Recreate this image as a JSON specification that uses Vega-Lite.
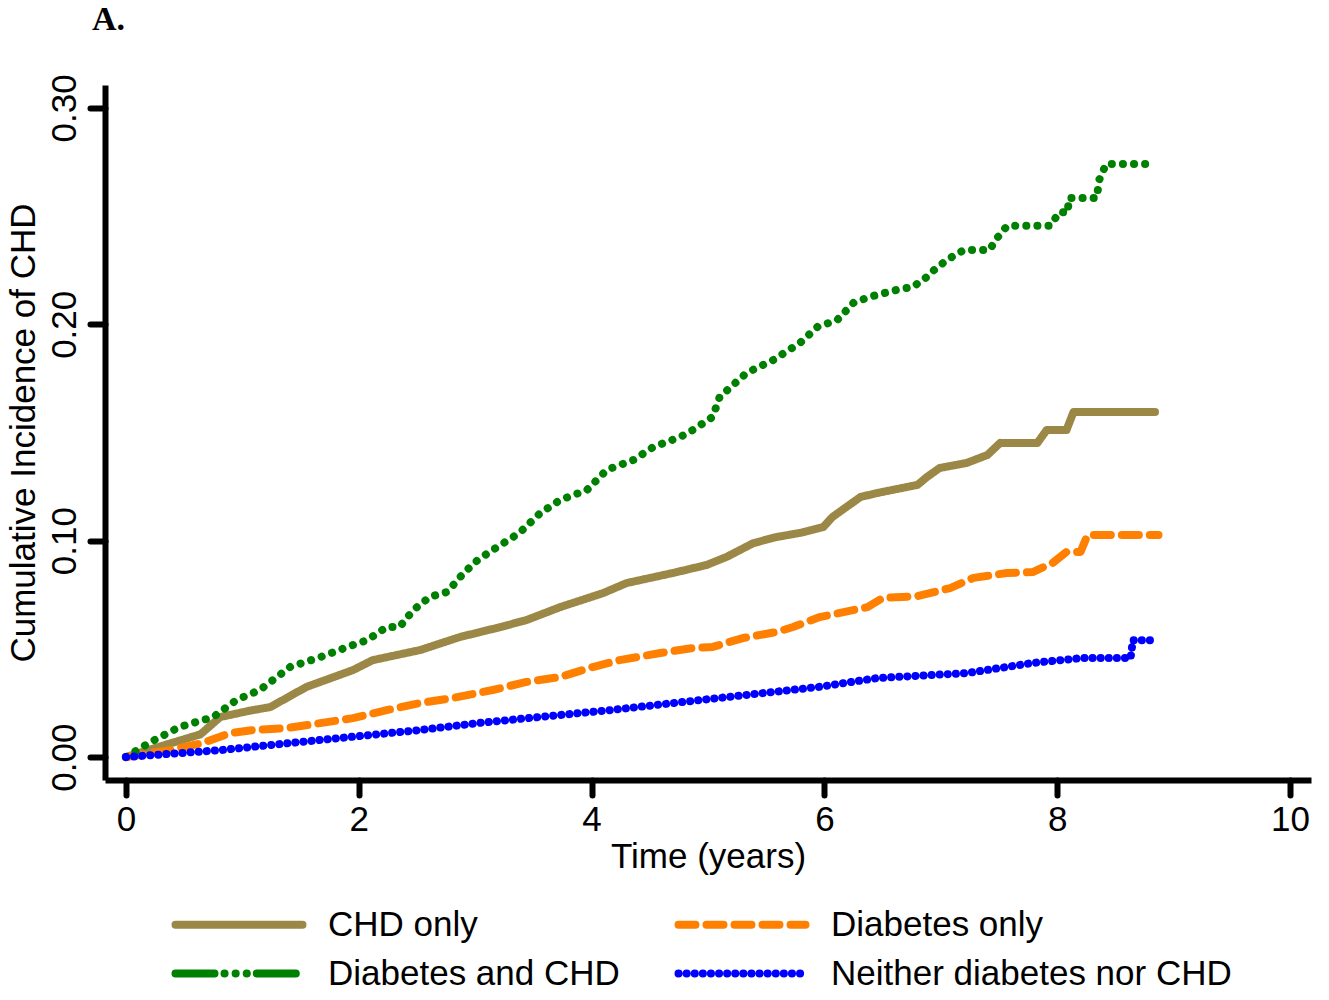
{
  "$schema": "https://vega.github.io/schema/vega-lite/v6.json",
  "width": 1206,
  "height": 695,
  "autosize": {"type": "none"},
  "padding": {"left": 105, "top": 85, "right": 18, "bottom": 220},
  "background": "white",
  "title": {"text": "A.", "anchor": "start", "frame": "group", "font": "Liberation Serif", "fontWeight": "bold", "fontSize": 34, "color": "black", "dx": -13, "offset": 37},
  "data": {"values": [
    {"group": "CHD only", "t": 0, "v": 0},
    {"group": "CHD only", "t": 0.3, "v": 0.005},
    {"group": "CHD only", "t": 0.64, "v": 0.0105},
    {"group": "CHD only", "t": 0.81, "v": 0.0185},
    {"group": "CHD only", "t": 1.07, "v": 0.0215},
    {"group": "CHD only", "t": 1.24, "v": 0.0231},
    {"group": "CHD only", "t": 1.55, "v": 0.0324},
    {"group": "CHD only", "t": 1.95, "v": 0.0402},
    {"group": "CHD only", "t": 2.12, "v": 0.0448},
    {"group": "CHD only", "t": 2.53, "v": 0.0495},
    {"group": "CHD only", "t": 2.87, "v": 0.0555},
    {"group": "CHD only", "t": 3.21, "v": 0.06},
    {"group": "CHD only", "t": 3.44, "v": 0.0633},
    {"group": "CHD only", "t": 3.73, "v": 0.0693},
    {"group": "CHD only", "t": 4.1, "v": 0.0758},
    {"group": "CHD only", "t": 4.3, "v": 0.0804},
    {"group": "CHD only", "t": 4.7, "v": 0.0851},
    {"group": "CHD only", "t": 4.99, "v": 0.0888},
    {"group": "CHD only", "t": 5.16, "v": 0.0925},
    {"group": "CHD only", "t": 5.39, "v": 0.0989},
    {"group": "CHD only", "t": 5.59, "v": 0.1017},
    {"group": "CHD only", "t": 5.79, "v": 0.1036},
    {"group": "CHD only", "t": 5.99, "v": 0.1063},
    {"group": "CHD only", "t": 6.07, "v": 0.111},
    {"group": "CHD only", "t": 6.31, "v": 0.1202},
    {"group": "CHD only", "t": 6.45, "v": 0.122},
    {"group": "CHD only", "t": 6.8, "v": 0.1258},
    {"group": "CHD only", "t": 6.88, "v": 0.1294},
    {"group": "CHD only", "t": 6.99, "v": 0.1336},
    {"group": "CHD only", "t": 7.22, "v": 0.1359},
    {"group": "CHD only", "t": 7.4, "v": 0.1396},
    {"group": "CHD only", "t": 7.51, "v": 0.1452},
    {"group": "CHD only", "t": 7.83, "v": 0.1452},
    {"group": "CHD only", "t": 7.91, "v": 0.1512},
    {"group": "CHD only", "t": 8.08, "v": 0.1512},
    {"group": "CHD only", "t": 8.14, "v": 0.1595},
    {"group": "CHD only", "t": 8.84, "v": 0.1595},
    {"group": "Diabetes only", "t": 0, "v": 0},
    {"group": "Diabetes only", "t": 0.38, "v": 0.0032},
    {"group": "Diabetes only", "t": 0.66, "v": 0.0065},
    {"group": "Diabetes only", "t": 0.89, "v": 0.011},
    {"group": "Diabetes only", "t": 1.09, "v": 0.0125},
    {"group": "Diabetes only", "t": 1.38, "v": 0.0134},
    {"group": "Diabetes only", "t": 1.67, "v": 0.0157},
    {"group": "Diabetes only", "t": 1.95, "v": 0.018},
    {"group": "Diabetes only", "t": 2.24, "v": 0.0217},
    {"group": "Diabetes only", "t": 2.53, "v": 0.025},
    {"group": "Diabetes only", "t": 2.81, "v": 0.0273},
    {"group": "Diabetes only", "t": 3.15, "v": 0.031},
    {"group": "Diabetes only", "t": 3.44, "v": 0.0347},
    {"group": "Diabetes only", "t": 3.73, "v": 0.037},
    {"group": "Diabetes only", "t": 4.01, "v": 0.0416},
    {"group": "Diabetes only", "t": 4.24, "v": 0.0448},
    {"group": "Diabetes only", "t": 4.59, "v": 0.0481},
    {"group": "Diabetes only", "t": 4.87, "v": 0.0504},
    {"group": "Diabetes only", "t": 5.04, "v": 0.0509},
    {"group": "Diabetes only", "t": 5.3, "v": 0.055},
    {"group": "Diabetes only", "t": 5.59, "v": 0.0578},
    {"group": "Diabetes only", "t": 5.73, "v": 0.0601},
    {"group": "Diabetes only", "t": 5.96, "v": 0.0647},
    {"group": "Diabetes only", "t": 6.37, "v": 0.0693},
    {"group": "Diabetes only", "t": 6.5, "v": 0.0735},
    {"group": "Diabetes only", "t": 6.8, "v": 0.0744},
    {"group": "Diabetes only", "t": 7.08, "v": 0.0781},
    {"group": "Diabetes only", "t": 7.28, "v": 0.0828},
    {"group": "Diabetes only", "t": 7.57, "v": 0.0851},
    {"group": "Diabetes only", "t": 7.79, "v": 0.0855},
    {"group": "Diabetes only", "t": 7.96, "v": 0.0897},
    {"group": "Diabetes only", "t": 8.08, "v": 0.0948},
    {"group": "Diabetes only", "t": 8.2, "v": 0.0948},
    {"group": "Diabetes only", "t": 8.26, "v": 0.1026},
    {"group": "Diabetes only", "t": 8.87, "v": 0.1026},
    {"group": "Diabetes and CHD", "t": 0, "v": 0},
    {"group": "Diabetes and CHD", "t": 0.21, "v": 0.0069},
    {"group": "Diabetes and CHD", "t": 0.46, "v": 0.0139},
    {"group": "Diabetes and CHD", "t": 0.75, "v": 0.0185},
    {"group": "Diabetes and CHD", "t": 0.95, "v": 0.0264},
    {"group": "Diabetes and CHD", "t": 1.15, "v": 0.031},
    {"group": "Diabetes and CHD", "t": 1.41, "v": 0.0416},
    {"group": "Diabetes and CHD", "t": 1.67, "v": 0.0462},
    {"group": "Diabetes and CHD", "t": 1.95, "v": 0.0518},
    {"group": "Diabetes and CHD", "t": 2.07, "v": 0.054},
    {"group": "Diabetes and CHD", "t": 2.24, "v": 0.0601},
    {"group": "Diabetes and CHD", "t": 2.35, "v": 0.0601},
    {"group": "Diabetes and CHD", "t": 2.47, "v": 0.068},
    {"group": "Diabetes and CHD", "t": 2.61, "v": 0.074},
    {"group": "Diabetes and CHD", "t": 2.76, "v": 0.0763},
    {"group": "Diabetes and CHD", "t": 2.9, "v": 0.085},
    {"group": "Diabetes and CHD", "t": 3.02, "v": 0.091},
    {"group": "Diabetes and CHD", "t": 3.15, "v": 0.0957},
    {"group": "Diabetes and CHD", "t": 3.38, "v": 0.1036},
    {"group": "Diabetes and CHD", "t": 3.56, "v": 0.1128},
    {"group": "Diabetes and CHD", "t": 3.73, "v": 0.1188},
    {"group": "Diabetes and CHD", "t": 3.96, "v": 0.1234},
    {"group": "Diabetes and CHD", "t": 4.13, "v": 0.1327},
    {"group": "Diabetes and CHD", "t": 4.36, "v": 0.1373},
    {"group": "Diabetes and CHD", "t": 4.53, "v": 0.1433},
    {"group": "Diabetes and CHD", "t": 4.76, "v": 0.1479},
    {"group": "Diabetes and CHD", "t": 4.87, "v": 0.1512},
    {"group": "Diabetes and CHD", "t": 5.04, "v": 0.1572},
    {"group": "Diabetes and CHD", "t": 5.1, "v": 0.1664},
    {"group": "Diabetes and CHD", "t": 5.33, "v": 0.1775},
    {"group": "Diabetes and CHD", "t": 5.56, "v": 0.1835},
    {"group": "Diabetes and CHD", "t": 5.79, "v": 0.1914},
    {"group": "Diabetes and CHD", "t": 5.94, "v": 0.1988},
    {"group": "Diabetes and CHD", "t": 6.11, "v": 0.202},
    {"group": "Diabetes and CHD", "t": 6.25, "v": 0.2099},
    {"group": "Diabetes and CHD", "t": 6.39, "v": 0.2127},
    {"group": "Diabetes and CHD", "t": 6.62, "v": 0.2159},
    {"group": "Diabetes and CHD", "t": 6.76, "v": 0.2173},
    {"group": "Diabetes and CHD", "t": 6.88, "v": 0.2219},
    {"group": "Diabetes and CHD", "t": 6.97, "v": 0.2265},
    {"group": "Diabetes and CHD", "t": 7.12, "v": 0.232},
    {"group": "Diabetes and CHD", "t": 7.2, "v": 0.2344},
    {"group": "Diabetes and CHD", "t": 7.42, "v": 0.2344},
    {"group": "Diabetes and CHD", "t": 7.47, "v": 0.239},
    {"group": "Diabetes and CHD", "t": 7.57, "v": 0.2455},
    {"group": "Diabetes and CHD", "t": 7.94, "v": 0.2455},
    {"group": "Diabetes and CHD", "t": 8.02, "v": 0.252},
    {"group": "Diabetes and CHD", "t": 8.09, "v": 0.2515},
    {"group": "Diabetes and CHD", "t": 8.1, "v": 0.2584},
    {"group": "Diabetes and CHD", "t": 8.34, "v": 0.2584},
    {"group": "Diabetes and CHD", "t": 8.36, "v": 0.2667},
    {"group": "Diabetes and CHD", "t": 8.42, "v": 0.2741},
    {"group": "Diabetes and CHD", "t": 8.8, "v": 0.2741},
    {"group": "Neither diabetes nor CHD", "t": 0, "v": 0},
    {"group": "Neither diabetes nor CHD", "t": 0.81, "v": 0.0032},
    {"group": "Neither diabetes nor CHD", "t": 1.67, "v": 0.0079},
    {"group": "Neither diabetes nor CHD", "t": 2.53, "v": 0.0125},
    {"group": "Neither diabetes nor CHD", "t": 3.02, "v": 0.0157},
    {"group": "Neither diabetes nor CHD", "t": 4.16, "v": 0.0217},
    {"group": "Neither diabetes nor CHD", "t": 5.16, "v": 0.0277},
    {"group": "Neither diabetes nor CHD", "t": 5.95, "v": 0.0324},
    {"group": "Neither diabetes nor CHD", "t": 6.45, "v": 0.0365},
    {"group": "Neither diabetes nor CHD", "t": 7.22, "v": 0.0388},
    {"group": "Neither diabetes nor CHD", "t": 7.79, "v": 0.0435},
    {"group": "Neither diabetes nor CHD", "t": 8.22, "v": 0.0458},
    {"group": "Neither diabetes nor CHD", "t": 8.63, "v": 0.0458},
    {"group": "Neither diabetes nor CHD", "t": 8.65, "v": 0.054},
    {"group": "Neither diabetes nor CHD", "t": 8.86, "v": 0.054}
  ]},
  "mark": {"type": "line", "strokeWidth": 8, "strokeCap": "round", "strokeJoin": "round", "interpolate": "linear"},
  "encoding": {
    "x": {"field": "t", "type": "quantitative", "scale": {"domain": [-0.18, 10.18], "nice": false, "zero": false},
      "axis": {"title": "Time (years)", "values": [0, 2, 4, 6, 8, 10], "labelPadding": 7, "titlePadding": 2, "labelAngle": 0}},
    "y": {"field": "v", "type": "quantitative", "scale": {"domain": [-0.0106, 0.3106], "nice": false, "zero": false},
      "axis": {"title": "Cumulative Incidence of CHD", "values": [0, 0.1, 0.2, 0.3], "format": ".2f", "labelAngle": -90, "labelPadding": 8, "titlePadding": 6}},
    "color": {"field": "group", "type": "nominal",
      "scale": {"domain": ["CHD only", "Diabetes and CHD", "Diabetes only", "Neither diabetes nor CHD"], "range": ["#9c8846", "#008000", "#ff8000", "#0000ff"]},
      "legend": {"title": null,
        "encode": {"symbols": {"update": {
          "strokeCap": {"value": "round"},
          "strokeDash": {"signal": "datum.value === 'Diabetes and CHD' ? [39, 10, 0.1, 11, 0.1, 11, 0.1, 10] : datum.value === 'Diabetes only' ? [17, 11] : datum.value === 'Neither diabetes nor CHD' ? [0.1, 8] : [1, 0]"}
        }}}}},
    "strokeDash": {
      "condition": [
        {"test": "datum.group === 'Diabetes and CHD'", "value": [0.1, 11]},
        {"test": "datum.group === 'Diabetes only'", "value": [17, 11]},
        {"test": "datum.group === 'Neither diabetes nor CHD'", "value": [0.1, 8]}
      ],
      "value": [1, 0]}
  },
  "config": {
    "view": {"stroke": null},
    "axis": {"domainColor": "black", "domainWidth": 6, "tickColor": "black", "tickWidth": 6, "tickSize": 15, "tickCap": "round", "grid": false,
      "labelFont": "Liberation Sans", "labelFontSize": 35, "labelColor": "black", "titleFont": "Liberation Sans", "titleFontSize": 35, "titleFontWeight": "normal", "titleColor": "black"},
    "legend": {"orient": "none", "legendX": 63, "legendY": 822, "columns": 2, "symbolType": "M-1,0H11.7", "symbolSize": 400, "symbolStrokeWidth": 8, "symbolFillColor": "transparent",
      "labelFont": "Liberation Sans", "labelFontSize": 35, "labelColor": "black", "labelOffset": 125, "labelLimit": 0, "columnPadding": 42, "rowPadding": 13, "padding": 0}
  }
}
